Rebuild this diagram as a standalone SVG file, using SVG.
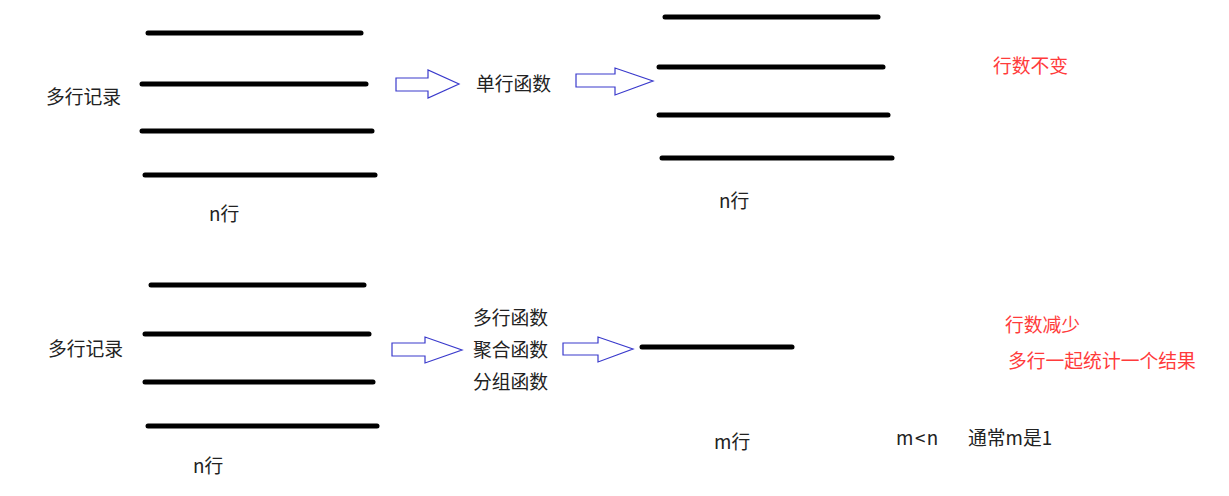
<svg xmlns="http://www.w3.org/2000/svg" width="1229" height="496" viewBox="0 0 1229 496">
<style>
.bar{stroke:#000;stroke-width:5;stroke-linecap:round;fill:none}
.arr{fill:#fff;stroke:#3a3acc;stroke-width:1.2}
text{font-family:"Microsoft YaHei","Noto Sans CJK SC",sans-serif;font-size:18.8px;fill:#222;dominant-baseline:central}
.red{fill:#ff3b3b}
</style>
<rect width="1229" height="496" fill="#fff"/>
<g id="top-left">
<line class="bar" x1="148" y1="33" x2="361" y2="33"/>
<line class="bar" x1="142" y1="84" x2="366" y2="84"/>
<line class="bar" x1="142" y1="131" x2="372" y2="131"/>
<line class="bar" x1="145" y1="175" x2="375" y2="175"/>
<text x="46" y="95">多行记录</text>
<text x="209" y="212">n行</text>
</g>
<g id="top-mid"><text x="476" y="82">单行函数</text></g>
<g id="top-right">
<line class="bar" x1="665" y1="17" x2="878" y2="17"/>
<line class="bar" x1="659" y1="67" x2="883" y2="67"/>
<line class="bar" x1="659" y1="115" x2="888" y2="115"/>
<line class="bar" x1="662" y1="158" x2="892" y2="158"/>
<text x="719" y="199">n行</text>
</g>
<g id="note-top"><text class="red" x="993" y="64">行数不变</text></g>
<g id="bottom-left">
<line class="bar" x1="151" y1="285" x2="364" y2="285"/>
<line class="bar" x1="145" y1="334" x2="369" y2="334"/>
<line class="bar" x1="145" y1="382" x2="373" y2="382"/>
<line class="bar" x1="148" y1="426" x2="377" y2="426"/>
<text x="48" y="347">多行记录</text>
<text x="193" y="464">n行</text>
</g>
<g id="bottom-mid">
<text x="473" y="316">多行函数</text>
<text x="473" y="348">聚合函数</text>
<text x="473" y="380">分组函数</text>
</g>
<g id="bottom-right">
<line class="bar" x1="642" y1="347" x2="792" y2="347"/>
<text x="714" y="440">m行</text>
</g>
<g id="note-bottom">
<text class="red" x="1005" y="323">行数减少</text>
<text class="red" x="1008" y="359">多行一起统计一个结果</text>
<text x="896" y="436" letter-spacing="1.5">m&lt;n</text>
<text x="968" y="436">通常m是1</text>
</g>
<g id="connectors">
<polygon class="arr" points="396,78 428,78 428,70 459,84 428,98 428,91 396,91"/>
<polygon class="arr" points="576,74 615,74 615,68 653,81 615,95 615,87 576,87"/>
<polygon class="arr" points="392,343 425,343 425,337 462,350 425,363 425,356 392,356"/>
<polygon class="arr" points="563,343 598,343 598,337 633,349 598,362 598,355 563,355"/>
</g>
</svg>
